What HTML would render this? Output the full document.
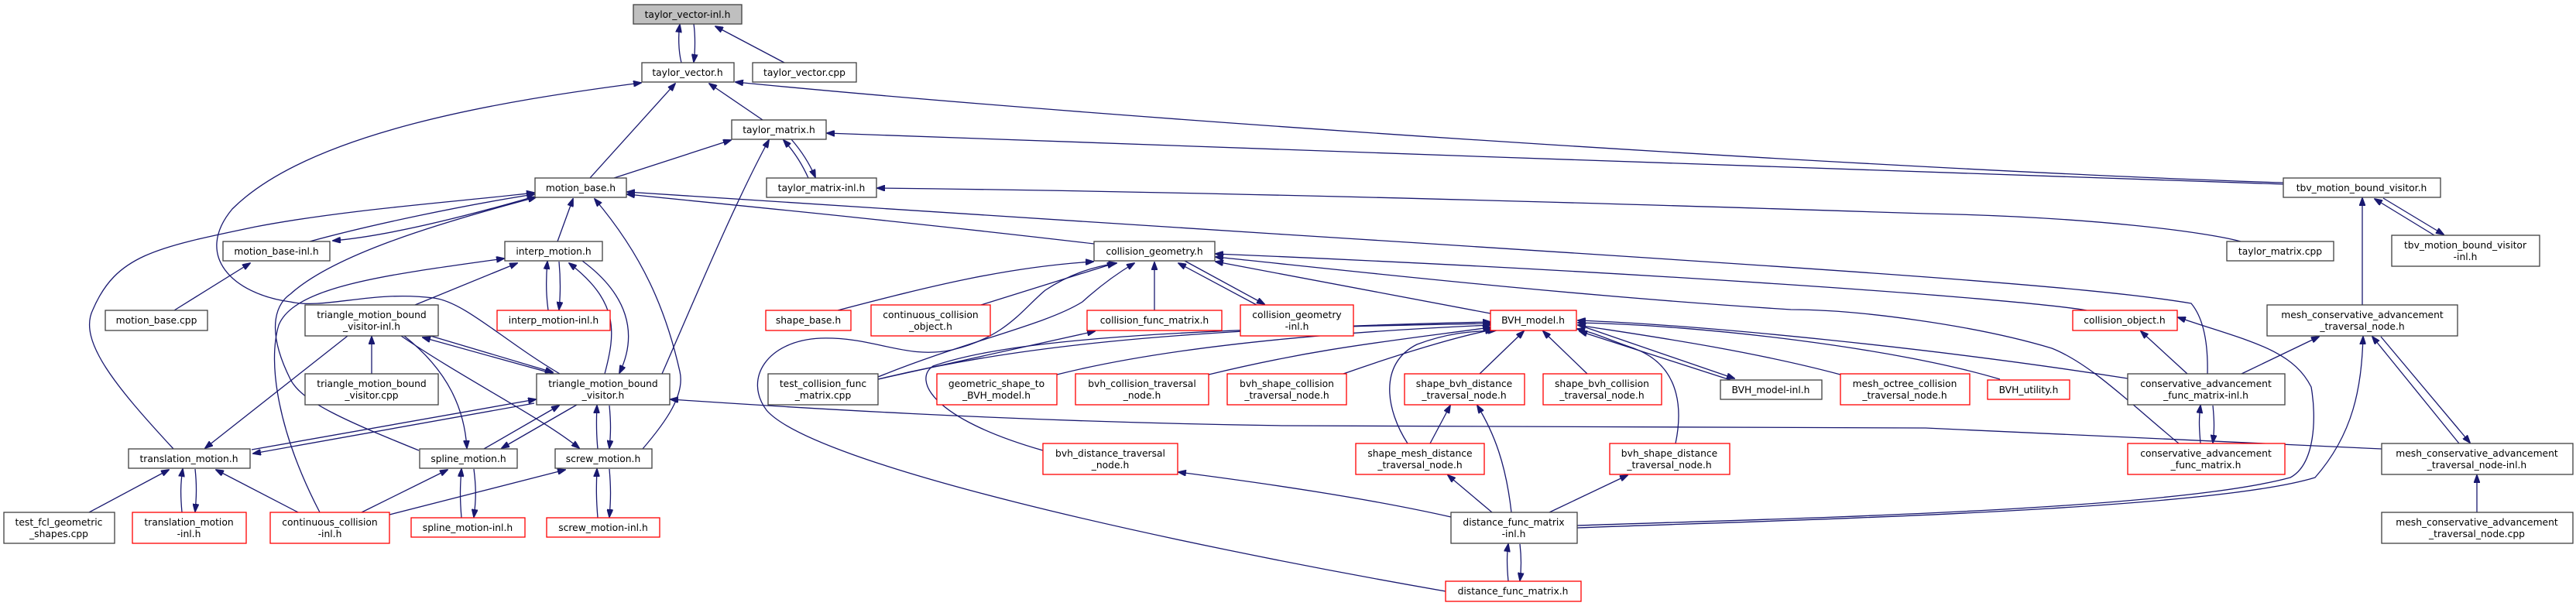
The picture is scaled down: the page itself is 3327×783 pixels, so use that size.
<!DOCTYPE html>
<html><head><meta charset="utf-8"><style>
html,body{margin:0;padding:0;background:#fff;}
svg{display:block;}
text{font-family:"DejaVu Sans","Liberation Sans",sans-serif;font-size:12.3px;fill:#000;text-anchor:middle;}
.e{fill:none;stroke:#191970;stroke-width:1.3;marker-end:url(#a);}
.n{fill:#fff;stroke:#404040;stroke-width:1.3;}
.r{fill:#fff;stroke:#ff0000;stroke-width:1.3;}
.g{fill:#bfbfbf;stroke:#404040;stroke-width:1.3;}
</style></head><body>
<svg width="3327" height="783" viewBox="0 0 3327 783" xmlns="http://www.w3.org/2000/svg">
<defs><marker id="a" markerWidth="11" markerHeight="8" refX="10" refY="4" orient="auto" markerUnits="userSpaceOnUse"><path d="M0,0 L11,4 L0,8 z" fill="#191970" stroke="#191970"/></marker></defs>
<g>
<path class="e" d="M880,81 C876,65 876,45 878,32"/>
<path class="e" d="M896,31 C898,45 898,65 896,80"/>
<path class="e" d="M1013,81 L924,34"/>
<path class="e" d="M985,155 L916,108"/>
<path class="e" d="M762,230 L872,108"/>
<path class="e" d="M2949,236 C2500,222 1500,160 950,106"/>
<path class="e" d="M723,483 C650,440 600,390 560,385 C480,375 420,400 375,390 C300,380 250,330 300,270 C400,170 650,130 828,107"/>
<path class="e" d="M793,230 L944,181"/>
<path class="e" d="M855,483 C900,380 950,260 993,181"/>
<path class="e" d="M1044,230 C1035,210 1025,195 1012,181"/>
<path class="e" d="M1022,180 C1035,195 1045,210 1053,229"/>
<path class="e" d="M2949,238 C2500,225 1600,190 1068,172"/>
<path class="e" d="M2894,312 C2850,300 2700,280 2487,276 C2000,260 1500,247 1133,243"/>
<path class="e" d="M224,580 C150,500 100,440 120,400 C150,330 200,320 330,293 C450,270 600,260 690,249"/>
<path class="e" d="M400,312 C480,290 600,265 690,251"/>
<path class="e" d="M690,254 C600,280 500,305 430,311"/>
<path class="e" d="M225,401 L323,340"/>
<path class="e" d="M720,312 L740,257"/>
<path class="e" d="M541,582 C450,545 390,520 375,490 C340,420 360,390 375,380 C430,330 560,290 692,255"/>
<path class="e" d="M830,580 C860,545 885,510 878,480 C860,400 830,330 768,257"/>
<path class="e" d="M2851,483 C2852,440 2845,410 2830,392 C2700,370 2400,350 1660,303 C1300,280 1000,260 810,248"/>
<path class="e" d="M1413,315 C1200,290 1000,270 810,251"/>
<path class="e" d="M708,401 C705,380 705,360 707,338"/>
<path class="e" d="M722,338 C724,360 724,380 722,400"/>
<path class="e" d="M536,394 L668,340"/>
<path class="e" d="M781,483 C795,430 800,390 735,340"/>
<path class="e" d="M752,337 C810,380 825,430 800,482"/>
<path class="e" d="M413,662 C360,560 345,470 360,420 C380,370 500,355 651,334"/>
<path class="e" d="M726,486 L546,436"/>
<path class="e" d="M556,434 L714,481"/>
<path class="e" d="M480,483 L480,435"/>
<path class="e" d="M449,434 L265,579"/>
<path class="e" d="M522,434 C580,480 600,530 603,579"/>
<path class="e" d="M518,434 C600,490 700,540 748,579"/>
<path class="e" d="M625,580 L722,524"/>
<path class="e" d="M745,523 L648,579"/>
<path class="e" d="M772,580 C770,560 770,545 771,524"/>
<path class="e" d="M787,524 C789,545 789,560 787,579"/>
<path class="e" d="M325,581 L692,516"/>
<path class="e" d="M690,521 L327,586"/>
<path class="e" d="M235,662 C233,640 233,625 236,606"/>
<path class="e" d="M252,606 C254,625 254,640 252,661"/>
<path class="e" d="M115,662 L218,607"/>
<path class="e" d="M385,662 L279,607"/>
<path class="e" d="M467,662 L578,607"/>
<path class="e" d="M503,665 L730,607"/>
<path class="e" d="M596,669 C594,645 594,630 596,606"/>
<path class="e" d="M612,606 C615,630 615,645 612,668"/>
<path class="e" d="M772,669 C770,645 770,630 771,606"/>
<path class="e" d="M787,606 C789,630 789,645 787,668"/>
<path class="e" d="M3076,580 L2487,553 L1660,550 C1300,545 1000,525 866,516"/>
<path class="e" d="M1082,401 C1200,370 1300,345 1412,338"/>
<path class="e" d="M1267,394 L1440,340"/>
<path class="e" d="M1867,764 C1500,700 1050,600 990,530 C960,490 990,440 1060,437 C1130,435 1170,465 1230,452 C1300,435 1320,400 1350,375 C1380,355 1410,345 1442,340"/>
<path class="e" d="M1134,487 C1250,440 1350,420 1398,390 C1420,370 1440,355 1465,340"/>
<path class="e" d="M1491,401 L1491,339"/>
<path class="e" d="M1623,394 L1522,340"/>
<path class="e" d="M1530,337 L1633,393"/>
<path class="e" d="M1925,405 L1570,338"/>
<path class="e" d="M2695,401 C2600,385 2100,350 1570,328"/>
<path class="e" d="M2814,573 C2750,520 2700,470 2650,450 C2550,420 2400,400 2313,400 C2000,380 1700,345 1570,332"/>
<path class="e" d="M1134,490 L1414,428"/>
<path class="e" d="M1134,490 C1300,450 1500,425 1925,416"/>
<path class="e" d="M1347,582 C1200,540 1180,490 1205,473 C1300,440 1500,425 1925,418"/>
<path class="e" d="M1365,484 C1500,450 1700,430 1925,420"/>
<path class="e" d="M1561,484 C1700,450 1800,440 1925,423"/>
<path class="e" d="M1735,483 C1800,460 1880,435 1928,426"/>
<path class="e" d="M1911,483 L1968,428"/>
<path class="e" d="M1818,573 C1790,530 1780,470 1830,445 C1870,430 1900,428 1932,427"/>
<path class="e" d="M2050,483 L1993,428"/>
<path class="e" d="M2164,573 C2175,520 2165,470 2110,450 C2080,440 2060,430 2037,425"/>
<path class="e" d="M2235,491 L2040,428"/>
<path class="e" d="M2045,422 L2240,489"/>
<path class="e" d="M2377,484 C2250,450 2100,430 2038,420"/>
<path class="e" d="M2583,490 C2450,450 2200,420 2038,417"/>
<path class="e" d="M2748,489 C2500,450 2200,420 2038,414"/>
<path class="e" d="M1847,573 L1873,524"/>
<path class="e" d="M1927,662 L1870,614"/>
<path class="e" d="M1952,662 C1945,600 1930,560 1908,524"/>
<path class="e" d="M2001,662 L2102,614"/>
<path class="e" d="M1874,668 C1750,640 1600,620 1522,610"/>
<path class="e" d="M1948,751 C1946,730 1946,715 1948,703"/>
<path class="e" d="M1963,703 C1965,720 1965,735 1963,750"/>
<path class="e" d="M2037,679 C2300,670 2800,660 2958,617 C2990,600 2992,540 2985,500 C2960,450 2900,440 2813,410"/>
<path class="e" d="M2037,682 C2300,672 2850,660 2990,617 C3040,560 3050,500 3052,435"/>
<path class="e" d="M2825,483 L2765,428"/>
<path class="e" d="M2895,483 L2995,435"/>
<path class="e" d="M2842,573 C2840,550 2840,540 2842,524"/>
<path class="e" d="M2858,524 C2860,545 2860,555 2858,572"/>
<path class="e" d="M3176,573 L3064,435"/>
<path class="e" d="M3075,435 L3190,572"/>
<path class="e" d="M3199,662 L3199,614"/>
<path class="e" d="M3051,394 L3051,256"/>
<path class="e" d="M3144,304 L3067,257"/>
<path class="e" d="M3078,256 L3156,303"/>
</g>
<g>
<rect class="g" x="818" y="6" width="140" height="25"/><text x="888" y="23">taylor_vector-inl.h</text>
<rect class="n" x="829" y="81" width="119" height="25"/><text x="888" y="98">taylor_vector.h</text>
<rect class="n" x="972" y="81" width="134" height="25"/><text x="1039" y="98">taylor_vector.cpp</text>
<rect class="n" x="945" y="155" width="122" height="25"/><text x="1006" y="172">taylor_matrix.h</text>
<rect class="n" x="990" y="230" width="142" height="25"/><text x="1061" y="247">taylor_matrix-inl.h</text>
<rect class="n" x="691" y="230" width="118" height="25"/><text x="750" y="247">motion_base.h</text>
<rect class="n" x="2949" y="230" width="203" height="25"/><text x="3050" y="247">tbv_motion_bound_visitor.h</text>
<rect class="n" x="288" y="312" width="138" height="25"/><text x="357" y="329">motion_base-inl.h</text>
<rect class="n" x="652" y="312" width="126" height="25"/><text x="715" y="329">interp_motion.h</text>
<rect class="n" x="1413" y="312" width="156" height="25"/><text x="1491" y="329">collision_geometry.h</text>
<rect class="n" x="2876" y="312" width="138" height="25"/><text x="2945" y="329">taylor_matrix.cpp</text>
<rect class="n" x="3089" y="304" width="191" height="40"/><text x="3184" y="321">tbv_motion_bound_visitor</text><text x="3184" y="336">-inl.h</text>
<rect class="n" x="2928" y="394" width="246" height="40"/><text x="3051" y="411">mesh_conservative_advancement</text><text x="3051" y="426">_traversal_node.h</text>
<rect class="n" x="136" y="401" width="132" height="26"/><text x="202" y="418">motion_base.cpp</text>
<rect class="n" x="394" y="394" width="172" height="40"/><text x="480" y="411">triangle_motion_bound</text><text x="480" y="426">_visitor-inl.h</text>
<rect class="r" x="642" y="401" width="146" height="26"/><text x="715" y="418">interp_motion-inl.h</text>
<rect class="n" x="394" y="483" width="172" height="40"/><text x="480" y="500">triangle_motion_bound</text><text x="480" y="515">_visitor.cpp</text>
<rect class="n" x="693" y="483" width="172" height="40"/><text x="779" y="500">triangle_motion_bound</text><text x="779" y="515">_visitor.h</text>
<rect class="n" x="166" y="580" width="157" height="25"/><text x="244" y="597">translation_motion.h</text>
<rect class="n" x="542" y="580" width="126" height="25"/><text x="605" y="597">spline_motion.h</text>
<rect class="n" x="717" y="580" width="125" height="25"/><text x="779" y="597">screw_motion.h</text>
<rect class="n" x="5" y="662" width="143" height="40"/><text x="76" y="679">test_fcl_geometric</text><text x="76" y="694">_shapes.cpp</text>
<rect class="r" x="171" y="662" width="147" height="40"/><text x="244" y="679">translation_motion</text><text x="244" y="694">-inl.h</text>
<rect class="r" x="349" y="662" width="154" height="40"/><text x="426" y="679">continuous_collision</text><text x="426" y="694">-inl.h</text>
<rect class="r" x="531" y="669" width="147" height="25"/><text x="604" y="686">spline_motion-inl.h</text>
<rect class="r" x="706" y="669" width="146" height="25"/><text x="779" y="686">screw_motion-inl.h</text>
<rect class="r" x="989" y="401" width="110" height="26"/><text x="1044" y="418">shape_base.h</text>
<rect class="r" x="1125" y="394" width="154" height="40"/><text x="1202" y="411">continuous_collision</text><text x="1202" y="426">_object.h</text>
<rect class="r" x="1404" y="401" width="174" height="26"/><text x="1491" y="418">collision_func_matrix.h</text>
<rect class="r" x="1602" y="394" width="146" height="40"/><text x="1675" y="411">collision_geometry</text><text x="1675" y="426">-inl.h</text>
<rect class="n" x="992" y="483" width="142" height="40"/><text x="1063" y="500">test_collision_func</text><text x="1063" y="515">_matrix.cpp</text>
<rect class="r" x="1210" y="483" width="155" height="40"/><text x="1287" y="500">geometric_shape_to</text><text x="1287" y="515">_BVH_model.h</text>
<rect class="r" x="1389" y="483" width="172" height="40"/><text x="1475" y="500">bvh_collision_traversal</text><text x="1475" y="515">_node.h</text>
<rect class="r" x="1585" y="483" width="154" height="40"/><text x="1662" y="500">bvh_shape_collision</text><text x="1662" y="515">_traversal_node.h</text>
<rect class="r" x="1347" y="573" width="174" height="40"/><text x="1434" y="590">bvh_distance_traversal</text><text x="1434" y="605">_node.h</text>
<rect class="r" x="1925" y="401" width="111" height="26"/><text x="1980" y="418">BVH_model.h</text>
<rect class="r" x="1814" y="483" width="155" height="40"/><text x="1891" y="500">shape_bvh_distance</text><text x="1891" y="515">_traversal_node.h</text>
<rect class="r" x="1993" y="483" width="153" height="40"/><text x="2069" y="500">shape_bvh_collision</text><text x="2069" y="515">_traversal_node.h</text>
<rect class="n" x="2222" y="491" width="131" height="25"/><text x="2287" y="508">BVH_model-inl.h</text>
<rect class="r" x="2377" y="483" width="167" height="40"/><text x="2460" y="500">mesh_octree_collision</text><text x="2460" y="515">_traversal_node.h</text>
<rect class="r" x="1751" y="573" width="166" height="40"/><text x="1834" y="590">shape_mesh_distance</text><text x="1834" y="605">_traversal_node.h</text>
<rect class="r" x="2079" y="573" width="155" height="40"/><text x="2156" y="590">bvh_shape_distance</text><text x="2156" y="605">_traversal_node.h</text>
<rect class="n" x="1874" y="662" width="163" height="40"/><text x="1955" y="679">distance_func_matrix</text><text x="1955" y="694">-inl.h</text>
<rect class="r" x="1867" y="751" width="175" height="26"/><text x="1954" y="768">distance_func_matrix.h</text>
<rect class="r" x="2677" y="401" width="135" height="26"/><text x="2744" y="418">collision_object.h</text>
<rect class="r" x="2567" y="491" width="106" height="25"/><text x="2620" y="508">BVH_utility.h</text>
<rect class="n" x="2748" y="483" width="203" height="40"/><text x="2849" y="500">conservative_advancement</text><text x="2849" y="515">_func_matrix-inl.h</text>
<rect class="r" x="2748" y="573" width="203" height="40"/><text x="2849" y="590">conservative_advancement</text><text x="2849" y="605">_func_matrix.h</text>
<rect class="n" x="3076" y="573" width="247" height="40"/><text x="3199" y="590">mesh_conservative_advancement</text><text x="3199" y="605">_traversal_node-inl.h</text>
<rect class="n" x="3076" y="662" width="247" height="40"/><text x="3199" y="679">mesh_conservative_advancement</text><text x="3199" y="694">_traversal_node.cpp</text>
</g>
</svg>
</body></html>
